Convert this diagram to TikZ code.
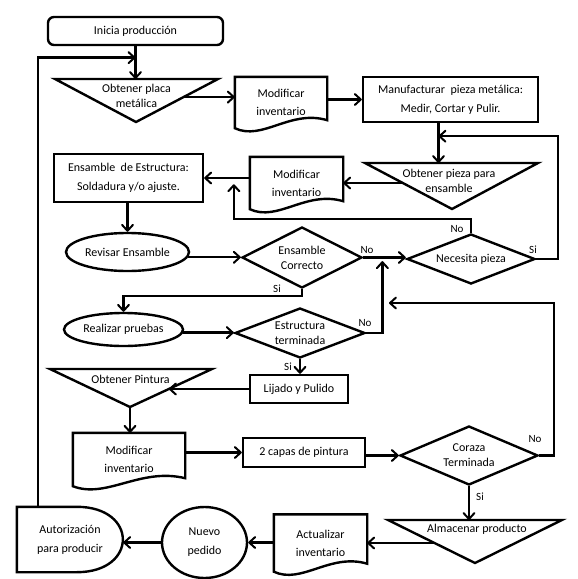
\documentclass[tikz,border=0pt]{standalone}
\usepackage{fontspec}
\setmainfont{Carlito}
\usetikzlibrary{arrows.meta,shapes.geometric,calc}

\begin{document}
\begin{tikzpicture}[x=1pt, y=-1pt, line width=2.4pt,
    every node/.style={font=\fontsize{12}{15}\selectfont, align=center, inner sep=0pt},
    arr/.style={-{Straight Barb[length=6pt,width=11pt,line width=2pt,round]}},
    box/.style={draw, rectangle},
    oval/.style={draw, ellipse},
    decision/.style={draw, diamond, aspect=2.5},
    doc/.style={rectangle, font=\fontsize{12}{18}\selectfont},
    rows/.style={font=\fontsize{12}{19}\selectfont},
    lbl/.style={font=\fontsize{11}{12}\selectfont}]
    \useasboundingbox (0,0) rectangle (578,579);

    \node[box, rounded corners=6pt, minimum width=175, minimum height=28] (inicia) at (135.5,31) {Inicia producción};
    \node[box, rows, minimum width=175, minimum height=45] (manuf) at (450.5,99.5) {Manufacturar\ \ pieza metálica:\\Medir, Cortar y Pulir.};
    \node[box, rows, minimum width=149, minimum height=48] (ensam) at (128.5,178) {Ensamble\ \ de Estructura:\\Soldadura y/o ajuste.};
    \node[oval, minimum width=123, minimum height=38] (revisar) at (127.5,252) {Revisar Ensamble};
    \node[decision, minimum width=120, minimum height=61] (correcto) at (302,257.5) {Ensamble\\Correcto};
    \node[decision, minimum width=128, minimum height=50] (necesita) at (471,259) {Necesita pieza};
    \node[oval, minimum width=119, minimum height=33] (realizar) at (123.5,329.5) {Realizar pruebas};
    \node[decision, minimum width=130, minimum height=50] (estructura) at (300,333) {Estructura\\terminada};
    \node[box, minimum width=98, minimum height=28] (lijado) at (299,389) {Lijado y Pulido};
    \node[box, minimum width=122, minimum height=29] (capas) at (304,452.5) {2 capas de pintura};
    \node[decision, minimum width=138, minimum height=59] (coraza) at (469,455.5) {Coraza\\Terminada};
    \node[oval, rows, minimum width=85, minimum height=71] (nuevo) at (204.5,542.5) {Nuevo\\pedido};

    % documentos
    \node[doc, minimum width=90, minimum height=49] (mod1) at (281,102.5) {Modificar\\inventario};
    \node[doc, minimum width=91, minimum height=50] (mod2) at (296.5,183) {Modificar\\inventario};
    \node[doc, minimum width=110, minimum height=51] (mod3) at (129,459.5) {Modificar\\inventario};
    \node[doc, minimum width=91, minimum height=55] (actual) at (320.5,543) {Actualizar\\inventario};
    \foreach \n in {mod1,mod2,mod3,actual} {
            \draw (\n.north west) -- (\n.north east) -- ($(\n.south east)+(0,-8)$)
            .. controls ($(\n.south west)!0.6!(\n.south east)+(0,-19)$) and ($(\n.south west)!0.3!(\n.south east)+(0,13)$)
            .. (\n.south west) -- cycle;
        }

    % triangulos
    \foreach \n/\xl/\xr/\yt/\xb/\yb in {placa/55/218/79/136/122, pieza/365/538/163/452/209,
            pintura/50/212/369/130/407, almacen/388/562/520/475/563} {
            \coordinate (\n-l) at (\xl,\yt);
            \coordinate (\n-r) at (\xr,\yt);
            \coordinate (\n-b) at (\xb,\yb);
            \draw (\n-l) -- (\n-r) -- (\n-b) -- cycle;
        }
    \node (placa) at (136.5,96) {Obtener placa\\metálica};
    \node (pieza) at (449,181) {Obtener pieza para\\ensamble};
    \node (pintura) at (130.5,379) {Obtener Pintura};
    \node (almacen) at (477,529) {Almacenar producto};

    % autorizacion
    \node[rows, minimum width=104, minimum height=63] (autor) at (70,539.5) {Autorización\\para producir};
    \draw (autor.north west) -- ($(autor.north west)+(60,0)$)
    .. controls ($(autor.north east)+(15,0)$) and ($(autor.south east)+(15,0)$)
    .. ($(autor.south west)+(60,0)$) -- (autor.south west) -- cycle;

    % conectores
    \coordinate (placa-t) at (inicia.south |- placa-l);
    \coordinate (autor-top) at ($(autor.north west)+(21,0)$);
    \draw[arr] (inicia.south) -- (placa-t);
    \draw[arr] (autor-top) |- ($(inicia.south)!0.35!(placa-t)$);

    \coordinate (placa-e) at ($(placa-r)!0.42!(placa-b)$);
    \draw[arr] (placa-e) -- (placa-e -| mod1.west);
    \draw[arr] (manuf.west -| mod1.east) -- (manuf.west);

    \coordinate (manuf-s) at ([xshift=-12pt]manuf.south);
    \draw[arr] (manuf-s) -- (manuf-s |- pieza-l);
    \draw[arr] (necesita.east) -- ++(22,0) |- ($(manuf-s)+(0,13)$);

    \coordinate (pieza-e) at ($(pieza-l)!0.435!(pieza-b)$);
    \draw[arr] (pieza-e) -- (pieza-e -| mod2.east);
    \draw[arr] (ensam.east -| mod2.west) -- (ensam.east);
    \draw[arr] (necesita.north) -- ++(0,-14) -| ($(ensam.east)!0.65!(mod2.west)+(0,3)$);

    \draw[arr] (revisar.north |- ensam.south) -- (revisar.north);
    \draw[arr] (revisar.-5) -- (revisar.-5 -| correcto.west);
    \draw[arr] (correcto.east) -- (correcto.east -| necesita.west);
    \draw[arr] (estructura.east) -| ($(correcto.east)!0.45!(necesita.west)+(0,3)$);
    \draw[arr] (correcto.south) -- ++(0,7) -| (realizar.north);
    \draw[arr] (realizar.-3) -- (realizar.-3 -| estructura.west);
    \draw[arr] (estructura.south) -- (estructura.south |- lijado.north);

    \coordinate (pintura-e) at ($(pintura-r)!0.526!(pintura-b)$);
    \draw[arr] (lijado.west) -- (lijado.west -| pintura-e);
    \draw[arr] (pintura-b) -- (pintura-b |- mod3.north);
    \draw[arr] (mod3.east |- capas.west) -- (capas.west);
    \draw[arr] (capas.east |- coraza.west) -- (coraza.west);

    \coordinate (coraza-back) at (389,303);
    \draw[arr] (coraza.east) -- ++(15,0) |- (coraza-back);
    \draw[arr] (coraza.south) -- (coraza.south |- almacen-l);

    \coordinate (almacen-e) at ($(almacen-l)!0.535!(almacen-b)$);
    \draw[arr] (almacen-e) -- (almacen-e -| actual.east);
    \draw[arr] (nuevo.east -| actual.west) -- (nuevo.east);
    \draw[arr] (nuevo.west) -- (nuevo.west -| autor.east);

    % etiquetas
    \node[lbl] (no1) at (457,229) {No};
    \node[lbl] (si1) at (533,250) {Si};
    \node[lbl] (no2) at (367,250) {No};
    \node[lbl] (si2) at (277,289) {Si};
    \node[lbl] (no3) at (365,323) {No};
    \node[lbl] (si3) at (288,367) {Si};
    \node[lbl] (no4) at (535,439) {No};
    \node[lbl] (si4) at (480,497) {Si};
\end{tikzpicture}
\end{document}
